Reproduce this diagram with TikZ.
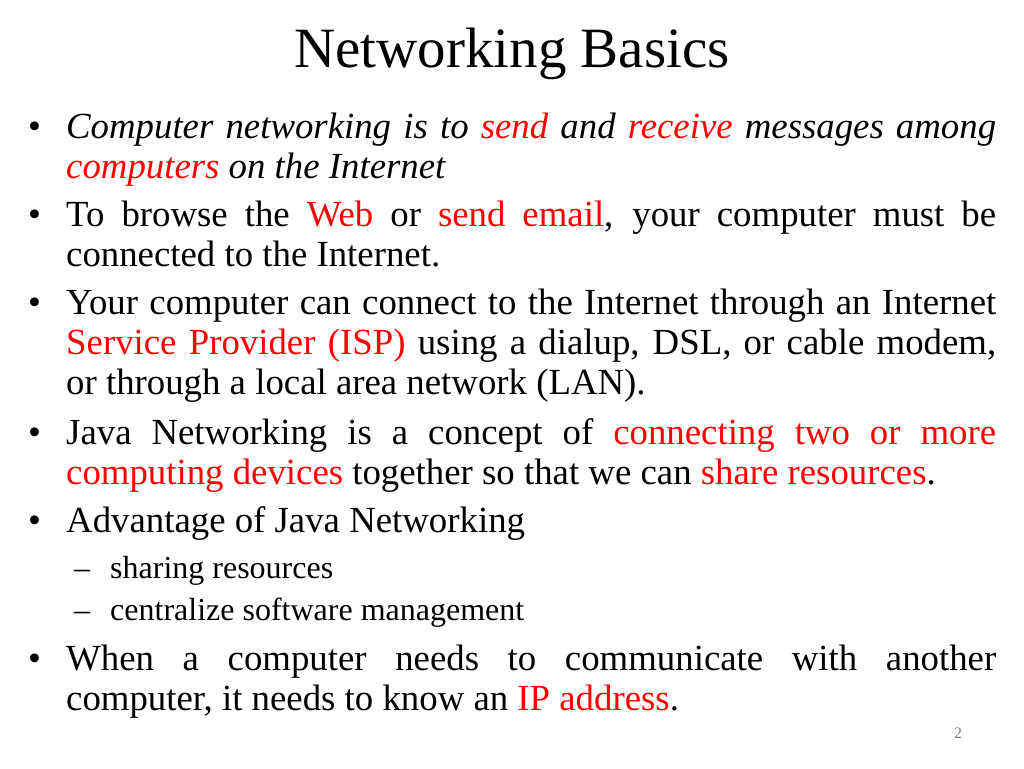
\documentclass[tikz,border=0pt]{standalone}
\usepackage{fontspec}
\setmainfont{Liberation Serif}
\definecolor{hl}{RGB}{255,0,0}
\newcommand{\R}[1]{\textcolor{hl}{#1}}
\newcommand{\J}[1]{\hbox to 930pt{#1}}
\begin{document}
\begin{tikzpicture}[x=1pt,y=-1pt,
  ln/.style={anchor=base west,inner sep=0pt,font=\fontsize{36.8}{40}\selectfont},
  sub/.style={anchor=base west,inner sep=0pt,font=\fontsize{32}{36}\selectfont},
  bul/.style={anchor=base west,inner sep=0pt,font=\fontsize{36.8}{40}\selectfont}]
\useasboundingbox (0,0) rectangle (1024,768);
\node[anchor=base,inner sep=0pt,font=\fontsize{57}{60}\selectfont] (title) at (512,67) {Networking Basics};
\foreach \y/\n in {138/b1,226/b2,314/b3,444/b4,532/b5,670/b6}{\node[bul] (\n) at (28,\y) {•};}
\node[ln] (l1) at (66,138) {\J{\itshape Computer networking is to \R{send} and \R{receive} messages among}};
\node[ln] (l2) at (66,178) {\itshape \R{computers} on the Internet};
\node[ln] (l3) at (66,226) {\J{To browse the \R{Web} or \R{send email}, your computer must be}};
\node[ln] (l4) at (66,266) {connected to the Internet.};
\node[ln] (l5) at (66,314) {\J{Your computer can connect to the Internet through an Internet}};
\node[ln] (l6) at (66,354) {\J{\R{Service Provider (ISP)} using a dialup, DSL, or cable modem,}};
\node[ln] (l7) at (66,394) {or through a local area network (LAN).};
\node[ln] (l8) at (66,444) {\J{Java Networking is a concept of \R{connecting two or more}}};
\node[ln] (l9) at (66,484) {\R{computing devices} together so that we can \R{share resources}.};
\node[ln] (l10) at (66,532) {Advantage of Java Networking};
\node[sub] (d1) at (74,578) {--};
\node[sub] (s1) at (110,578) {sharing resources};
\node[sub] (d2) at (74,620) {--};
\node[sub] (s2) at (110,620) {centralize software management};
\node[ln] (l11) at (66,670) {\J{When a computer needs to communicate with another}};
\node[ln] (l12) at (66,710) {computer, it needs to know an \R{IP address}.};
\node[anchor=base,inner sep=0pt,font=\fontsize{16}{18}\selectfont,text=gray] (pg) at (958,738) {2};
\end{tikzpicture}
\end{document}
